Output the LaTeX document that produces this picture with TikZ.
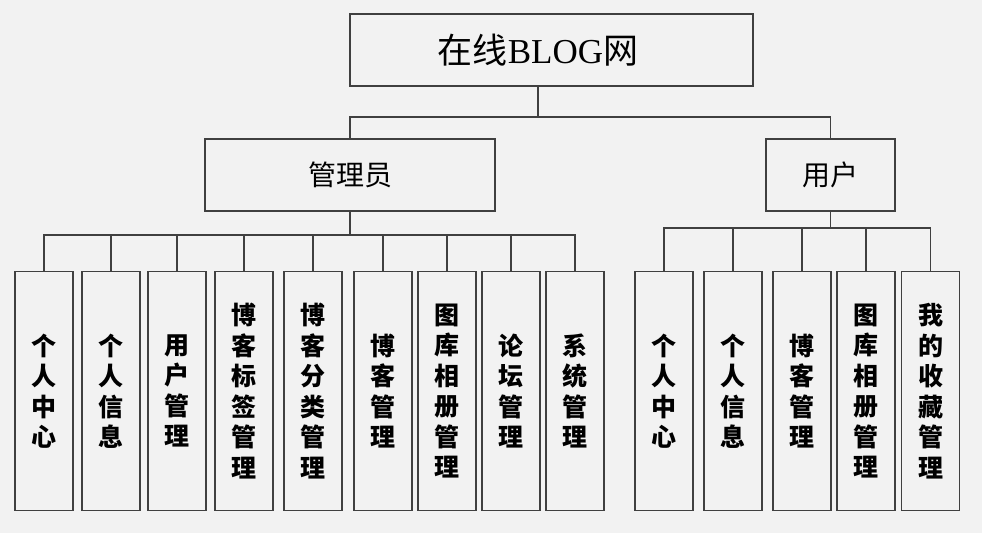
\documentclass[tikz,border=0pt]{standalone}
\usepackage{fontspec}
\usepackage{tikz}
\usetikzlibrary{positioning, calc}
\newfontfamily\cjk{Noto Sans CJK SC}
\newfontfamily\latinserif{Liberation Serif}
\definecolor{bgcol}{HTML}{F2F2F2}
\definecolor{linecol}{HTML}{404040}

\begin{document}
\begin{tikzpicture}[
    x=1pt, y=-1pt,
    box/.style={draw=linecol, line width=1.2pt, inner sep=0pt},
    leaf/.style={box, anchor=north, minimum width=58pt, minimum height=239pt,
                 align=center, font=\cjk\bfseries\fontsize{25}{30.5}\selectfont},
    link/.style={draw=linecol, line width=1.2pt},
]
    % canvas
    \fill[bgcol] (0,0) rectangle (982,533);
    \useasboundingbox (0,0) rectangle (982,533);

    % Top level
    \node[box, minimum width=403pt, minimum height=72pt] (root) at (551.5,50) {};
    \node[font=\cjk\fontsize{35}{40}\selectfont, inner sep=0pt] (roottitle) at (538,50) {在线{\latinserif BLOG}网};

    % Second level
    \node[box, minimum width=290pt, minimum height=72pt,
          font=\cjk\fontsize{28}{32}\selectfont] (admin) at (350,175) {管理员};
    \node[box, minimum width=129pt, minimum height=72pt,
          font=\cjk\fontsize{28}{32}\selectfont] (user) at (830.5,175) {用户};

    % Root to second level
    \coordinate (rootdrop) at (538,86);
    \coordinate (bus0) at (538,117);
    \draw[link] (rootdrop) -- (bus0);
    \draw[link] (admin.north) |- (bus0) -| (user.north);

    % Administrator modules
    \foreach \x/\name/\txt in {
        44/a1/{个\\人\\中\\心},
        111/a2/{个\\人\\信\\息},
        177/a3/{用\\户\\管\\理},
        244/a4/{博\\客\\标\\签\\管\\理},
        313/a5/{博\\客\\分\\类\\管\\理},
        383/a6/{博\\客\\管\\理},
        447/a7/{图\\库\\相\\册\\管\\理},
        511/a8/{论\\坛\\管\\理},
        575/a9/{系\\统\\管\\理}} {
        \node[leaf] (\name) at (\x,271) {\txt};
    }
    \coordinate (abus) at (350,235);
    \draw[link] (admin.south) -- (abus);
    \draw[link] (a1.north) |- (abus) -| (a9.north);
    \foreach \name in {a2,a3,a4,a5,a6,a7,a8}
        \draw[link] (\name.north) -- (\name.north |- abus);

    % User modules
    \foreach \x/\name/\txt in {
        664/u1/{个\\人\\中\\心},
        733/u2/{个\\人\\信\\息},
        802/u3/{博\\客\\管\\理},
        866/u4/{图\\库\\相\\册\\管\\理},
        930.5/u5/{我\\的\\收\\藏\\管\\理}} {
        \node[leaf] (\name) at (\x,271) {\txt};
    }
    \coordinate (ubus) at (830.5,228);
    \draw[link] (user.south) -- (ubus);
    \draw[link] (u1.north) |- (ubus) -| (u5.north);
    \foreach \name in {u2,u3,u4}
        \draw[link] (\name.north) -- (\name.north |- ubus);

\end{tikzpicture}
\end{document}
